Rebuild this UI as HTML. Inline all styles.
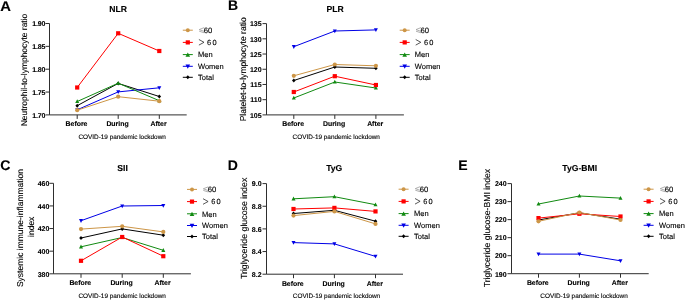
<!DOCTYPE html>
<html><head><meta charset="utf-8"><style>
html,body{margin:0;padding:0;background:#fff;overflow:hidden}
svg{display:block;will-change:transform}
text{font-family:"Liberation Sans", sans-serif;fill:#000;stroke:#000;stroke-width:0.12px;text-rendering:geometricPrecision}
</style></head><body>
<svg width="685" height="300" viewBox="0 0 685 300">
<rect width="685" height="300" fill="#fff"/>
<text transform="translate(0.3 10.6) scale(1.06 1)" font-size="14" font-weight="bold">A</text>
<text x="118.10" y="12" font-size="8.65" font-weight="bold" text-anchor="middle">NLR</text>
<path d="M49.5 23.5V114.9M49.5 114.9H186.7" stroke="#2e2e2e" stroke-width="1" fill="none"/>
<path d="M45.5 23.50H49.5" stroke="#2e2e2e" stroke-width="1"/>
<text x="45.20" y="26.30" font-size="7" font-weight="bold" text-anchor="end" letter-spacing="-0.2">1.90</text>
<path d="M45.5 46.35H49.5" stroke="#2e2e2e" stroke-width="1"/>
<text x="45.20" y="49.15" font-size="7" font-weight="bold" text-anchor="end" letter-spacing="-0.2">1.85</text>
<path d="M45.5 69.20H49.5" stroke="#2e2e2e" stroke-width="1"/>
<text x="45.20" y="72.00" font-size="7" font-weight="bold" text-anchor="end" letter-spacing="-0.2">1.80</text>
<path d="M45.5 92.05H49.5" stroke="#2e2e2e" stroke-width="1"/>
<text x="45.20" y="94.85" font-size="7" font-weight="bold" text-anchor="end" letter-spacing="-0.2">1.75</text>
<path d="M45.5 114.90H49.5" stroke="#2e2e2e" stroke-width="1"/>
<text x="45.20" y="117.70" font-size="7" font-weight="bold" text-anchor="end" letter-spacing="-0.2">1.70</text>
<path d="M77.2 114.9V118.9" stroke="#2e2e2e" stroke-width="1"/>
<text x="76.50" y="126.40" font-size="6.9" font-weight="bold" text-anchor="middle">Before</text>
<path d="M118.2 114.9V118.9" stroke="#2e2e2e" stroke-width="1"/>
<text x="117.50" y="126.40" font-size="6.9" font-weight="bold" text-anchor="middle">During</text>
<path d="M159.3 114.9V118.9" stroke="#2e2e2e" stroke-width="1"/>
<text x="158.60" y="126.40" font-size="6.9" font-weight="bold" text-anchor="middle">After</text>
<text x="122.15" y="138.90" font-size="6.4" text-anchor="middle">COVID-19 pandemic lockdown</text>
<text transform="translate(27.1,70.0) rotate(-90)" font-size="8.45" text-anchor="middle">Neutrophil-to-lymphocyte ratio</text>
<path d="M77.20 105.70L118.20 83.40L159.30 96.50" stroke="#000000" stroke-width="1" fill="none"/>
<path d="M77.20 103.70L79.00 105.70L77.20 107.70L75.40 105.70Z" fill="#000000"/>
<path d="M118.20 81.40L120.00 83.40L118.20 85.40L116.40 83.40Z" fill="#000000"/>
<path d="M159.30 94.50L161.10 96.50L159.30 98.50L157.50 96.50Z" fill="#000000"/>
<path d="M77.20 109.80L118.20 91.90L159.30 87.80" stroke="#0000E6" stroke-width="1" fill="none"/>
<path d="M77.20 112.00L79.20 108.20L75.20 108.20Z" fill="#0000E6"/>
<path d="M118.20 94.10L120.20 90.30L116.20 90.30Z" fill="#0000E6"/>
<path d="M159.30 90.00L161.30 86.20L157.30 86.20Z" fill="#0000E6"/>
<path d="M77.20 101.50L118.20 83.20L159.30 100.70" stroke="#118A11" stroke-width="1" fill="none"/>
<path d="M77.20 99.30L79.20 103.10L75.20 103.10Z" fill="#118A11"/>
<path d="M118.20 81.00L120.20 84.80L116.20 84.80Z" fill="#118A11"/>
<path d="M159.30 98.50L161.30 102.30L157.30 102.30Z" fill="#118A11"/>
<path d="M77.20 87.50L118.20 33.30L159.30 51.00" stroke="#FF0000" stroke-width="1" fill="none"/>
<rect x="75.10" y="85.40" width="4.20" height="4.20" fill="#FF0000"/>
<rect x="116.10" y="31.20" width="4.20" height="4.20" fill="#FF0000"/>
<rect x="157.20" y="48.90" width="4.20" height="4.20" fill="#FF0000"/>
<path d="M77.20 110.20L118.20 96.70L159.30 101.20" stroke="#CD9647" stroke-width="1" fill="none"/>
<circle cx="77.20" cy="110.20" r="2.10" fill="#CD9647"/>
<circle cx="118.20" cy="96.70" r="2.10" fill="#CD9647"/>
<circle cx="159.30" cy="101.20" r="2.10" fill="#CD9647"/>
<path d="M182.8 30.20H192.8" stroke="#CD9647" stroke-width="1"/>
<circle cx="187.80" cy="30.20" r="1.99" fill="#CD9647"/>
<path d="M204.20 27.60L199.20 29.60L204.20 31.40M199.20 31.20L204.20 32.80" stroke="#9a9a9a" stroke-width="0.8" fill="none"/>
<text x="203.70" y="32.90" font-size="7.7">60</text>
<path d="M182.8 42.40H192.8" stroke="#FF0000" stroke-width="1"/>
<rect x="185.70" y="40.30" width="4.20" height="4.20" fill="#FF0000"/>
<path d="M198.90 39.50L204.00 42.30L198.90 45.10" stroke="#222" stroke-width="0.75" fill="none"/>
<text x="207.10" y="45.00" font-size="7.4" letter-spacing="1.2">60</text>
<path d="M182.8 54.60H192.8" stroke="#118A11" stroke-width="1"/>
<path d="M187.80 52.47L190.10 56.84L185.50 56.84Z" fill="#118A11"/>
<text x="198.00" y="57.30" font-size="7.5">Men</text>
<path d="M182.8 66.30H192.8" stroke="#0000E6" stroke-width="1"/>
<path d="M187.80 68.83L190.10 64.46L185.50 64.46Z" fill="#0000E6"/>
<text x="198.00" y="69.00" font-size="7.5">Women</text>
<path d="M182.8 77.30H192.8" stroke="#000000" stroke-width="1"/>
<path d="M187.80 75.30L189.60 77.30L187.80 79.30L186.00 77.30Z" fill="#000000"/>
<text x="198.00" y="80.00" font-size="7.5">Total</text>
<text x="228" y="10.3" font-size="14" font-weight="bold">B</text>
<text x="335.20" y="12" font-size="8.65" font-weight="bold" text-anchor="middle">PLR</text>
<path d="M266.5 23.6V114.9M266.5 114.9H403.9" stroke="#2e2e2e" stroke-width="1" fill="none"/>
<path d="M262.5 23.60H266.5" stroke="#2e2e2e" stroke-width="1"/>
<text x="261.60" y="26.40" font-size="7" font-weight="bold" text-anchor="end">135</text>
<path d="M262.5 38.82H266.5" stroke="#2e2e2e" stroke-width="1"/>
<text x="261.60" y="41.62" font-size="7" font-weight="bold" text-anchor="end">130</text>
<path d="M262.5 54.03H266.5" stroke="#2e2e2e" stroke-width="1"/>
<text x="261.60" y="56.83" font-size="7" font-weight="bold" text-anchor="end">125</text>
<path d="M262.5 69.25H266.5" stroke="#2e2e2e" stroke-width="1"/>
<text x="261.60" y="72.05" font-size="7" font-weight="bold" text-anchor="end">120</text>
<path d="M262.5 84.47H266.5" stroke="#2e2e2e" stroke-width="1"/>
<text x="261.60" y="87.27" font-size="7" font-weight="bold" text-anchor="end">115</text>
<path d="M262.5 99.68H266.5" stroke="#2e2e2e" stroke-width="1"/>
<text x="261.60" y="102.48" font-size="7" font-weight="bold" text-anchor="end">110</text>
<path d="M262.5 114.90H266.5" stroke="#2e2e2e" stroke-width="1"/>
<text x="261.60" y="117.70" font-size="7" font-weight="bold" text-anchor="end">105</text>
<path d="M293.8 114.9V118.9" stroke="#2e2e2e" stroke-width="1"/>
<text x="293.10" y="126.40" font-size="6.9" font-weight="bold" text-anchor="middle">Before</text>
<path d="M334.8 114.9V118.9" stroke="#2e2e2e" stroke-width="1"/>
<text x="334.10" y="126.40" font-size="6.9" font-weight="bold" text-anchor="middle">During</text>
<path d="M375.9 114.9V118.9" stroke="#2e2e2e" stroke-width="1"/>
<text x="375.20" y="126.40" font-size="6.9" font-weight="bold" text-anchor="middle">After</text>
<text x="336.25" y="138.90" font-size="6.4" text-anchor="middle">COVID-19 pandemic lockdown</text>
<text transform="translate(245.5,69.3) rotate(-90)" font-size="8.6" text-anchor="middle">Platelet-to-lymphocyte ratio</text>
<path d="M293.80 80.50L334.80 67.00L375.90 68.30" stroke="#000000" stroke-width="1" fill="none"/>
<path d="M293.80 78.50L295.60 80.50L293.80 82.50L292.00 80.50Z" fill="#000000"/>
<path d="M334.80 65.00L336.60 67.00L334.80 69.00L333.00 67.00Z" fill="#000000"/>
<path d="M375.90 66.30L377.70 68.30L375.90 70.30L374.10 68.30Z" fill="#000000"/>
<path d="M293.80 46.70L334.80 31.00L375.90 29.90" stroke="#0000E6" stroke-width="1" fill="none"/>
<path d="M293.80 48.90L295.80 45.10L291.80 45.10Z" fill="#0000E6"/>
<path d="M334.80 33.20L336.80 29.40L332.80 29.40Z" fill="#0000E6"/>
<path d="M375.90 32.10L377.90 28.30L373.90 28.30Z" fill="#0000E6"/>
<path d="M293.80 98.00L334.80 82.00L375.90 88.00" stroke="#118A11" stroke-width="1" fill="none"/>
<path d="M293.80 95.80L295.80 99.60L291.80 99.60Z" fill="#118A11"/>
<path d="M334.80 79.80L336.80 83.60L332.80 83.60Z" fill="#118A11"/>
<path d="M375.90 85.80L377.90 89.60L373.90 89.60Z" fill="#118A11"/>
<path d="M293.80 92.00L334.80 76.20L375.90 85.00" stroke="#FF0000" stroke-width="1" fill="none"/>
<rect x="291.70" y="89.90" width="4.20" height="4.20" fill="#FF0000"/>
<rect x="332.70" y="74.10" width="4.20" height="4.20" fill="#FF0000"/>
<rect x="373.80" y="82.90" width="4.20" height="4.20" fill="#FF0000"/>
<path d="M293.80 75.80L334.80 64.50L375.90 65.80" stroke="#CD9647" stroke-width="1" fill="none"/>
<circle cx="293.80" cy="75.80" r="2.10" fill="#CD9647"/>
<circle cx="334.80" cy="64.50" r="2.10" fill="#CD9647"/>
<circle cx="375.90" cy="65.80" r="2.10" fill="#CD9647"/>
<path d="M399.7 30.20H409.7" stroke="#CD9647" stroke-width="1"/>
<circle cx="404.70" cy="30.20" r="1.99" fill="#CD9647"/>
<path d="M421.00 27.60L416.00 29.60L421.00 31.40M416.00 31.20L421.00 32.80" stroke="#9a9a9a" stroke-width="0.8" fill="none"/>
<text x="420.50" y="32.90" font-size="7.7">60</text>
<path d="M399.7 42.40H409.7" stroke="#FF0000" stroke-width="1"/>
<rect x="402.60" y="40.30" width="4.20" height="4.20" fill="#FF0000"/>
<path d="M415.70 39.50L420.80 42.30L415.70 45.10" stroke="#222" stroke-width="0.75" fill="none"/>
<text x="423.90" y="45.00" font-size="7.4" letter-spacing="1.2">60</text>
<path d="M399.7 54.60H409.7" stroke="#118A11" stroke-width="1"/>
<path d="M404.70 52.47L407.00 56.84L402.40 56.84Z" fill="#118A11"/>
<text x="414.80" y="57.30" font-size="7.5">Men</text>
<path d="M399.7 66.30H409.7" stroke="#0000E6" stroke-width="1"/>
<path d="M404.70 68.83L407.00 64.46L402.40 64.46Z" fill="#0000E6"/>
<text x="414.80" y="69.00" font-size="7.5">Women</text>
<path d="M399.7 77.30H409.7" stroke="#000000" stroke-width="1"/>
<path d="M404.70 75.30L406.50 77.30L404.70 79.30L402.90 77.30Z" fill="#000000"/>
<text x="414.80" y="80.00" font-size="7.5">Total</text>
<text x="0.2" y="169.6" font-size="14" font-weight="bold">C</text>
<text x="122.60" y="171" font-size="8.65" font-weight="bold" text-anchor="middle">SII</text>
<path d="M53.5 183.3V273.8M53.5 273.8H190.9" stroke="#2e2e2e" stroke-width="1" fill="none"/>
<path d="M49.5 183.30H53.5" stroke="#2e2e2e" stroke-width="1"/>
<text x="49.40" y="186.10" font-size="7" font-weight="bold" text-anchor="end">460</text>
<path d="M49.5 205.93H53.5" stroke="#2e2e2e" stroke-width="1"/>
<text x="49.40" y="208.73" font-size="7" font-weight="bold" text-anchor="end">440</text>
<path d="M49.5 228.55H53.5" stroke="#2e2e2e" stroke-width="1"/>
<text x="49.40" y="231.35" font-size="7" font-weight="bold" text-anchor="end">420</text>
<path d="M49.5 251.18H53.5" stroke="#2e2e2e" stroke-width="1"/>
<text x="49.40" y="253.98" font-size="7" font-weight="bold" text-anchor="end">400</text>
<path d="M49.5 273.80H53.5" stroke="#2e2e2e" stroke-width="1"/>
<text x="49.40" y="276.60" font-size="7" font-weight="bold" text-anchor="end">380</text>
<path d="M81.0 273.8V277.8" stroke="#2e2e2e" stroke-width="1"/>
<text x="80.30" y="285.30" font-size="6.9" font-weight="bold" text-anchor="middle">Before</text>
<path d="M122.2 273.8V277.8" stroke="#2e2e2e" stroke-width="1"/>
<text x="121.50" y="285.30" font-size="6.9" font-weight="bold" text-anchor="middle">During</text>
<path d="M163.3 273.8V277.8" stroke="#2e2e2e" stroke-width="1"/>
<text x="162.60" y="285.30" font-size="6.9" font-weight="bold" text-anchor="middle">After</text>
<text x="122.20" y="297.80" font-size="6.4" text-anchor="middle">COVID-19 pandemic lockdown</text>
<text transform="translate(23.3,228) rotate(-90)" font-size="8.5" text-anchor="middle">Systemic immune-inflammation</text>
<text transform="translate(33.5,226.8) rotate(-90)" font-size="8.5" text-anchor="middle">index</text>
<path d="M81.00 238.00L122.20 228.90L163.30 235.20" stroke="#000000" stroke-width="1" fill="none"/>
<path d="M81.00 236.00L82.80 238.00L81.00 240.00L79.20 238.00Z" fill="#000000"/>
<path d="M122.20 226.90L124.00 228.90L122.20 230.90L120.40 228.90Z" fill="#000000"/>
<path d="M163.30 233.20L165.10 235.20L163.30 237.20L161.50 235.20Z" fill="#000000"/>
<path d="M81.00 220.70L122.20 206.00L163.30 205.50" stroke="#0000E6" stroke-width="1" fill="none"/>
<path d="M81.00 222.90L83.00 219.10L79.00 219.10Z" fill="#0000E6"/>
<path d="M122.20 208.20L124.20 204.40L120.20 204.40Z" fill="#0000E6"/>
<path d="M163.30 207.70L165.30 203.90L161.30 203.90Z" fill="#0000E6"/>
<path d="M81.00 246.80L122.20 237.50L163.30 250.30" stroke="#118A11" stroke-width="1" fill="none"/>
<path d="M81.00 244.60L83.00 248.40L79.00 248.40Z" fill="#118A11"/>
<path d="M122.20 235.30L124.20 239.10L120.20 239.10Z" fill="#118A11"/>
<path d="M163.30 248.10L165.30 251.90L161.30 251.90Z" fill="#118A11"/>
<path d="M81.00 260.80L122.20 237.00L163.30 256.20" stroke="#FF0000" stroke-width="1" fill="none"/>
<rect x="78.90" y="258.70" width="4.20" height="4.20" fill="#FF0000"/>
<rect x="120.10" y="234.90" width="4.20" height="4.20" fill="#FF0000"/>
<rect x="161.20" y="254.10" width="4.20" height="4.20" fill="#FF0000"/>
<path d="M81.00 229.10L122.20 226.30L163.30 231.90" stroke="#CD9647" stroke-width="1" fill="none"/>
<circle cx="81.00" cy="229.10" r="2.10" fill="#CD9647"/>
<circle cx="122.20" cy="226.30" r="2.10" fill="#CD9647"/>
<circle cx="163.30" cy="231.90" r="2.10" fill="#CD9647"/>
<path d="M187 189.40H197" stroke="#CD9647" stroke-width="1"/>
<circle cx="192.00" cy="189.40" r="1.99" fill="#CD9647"/>
<path d="M208.30 186.80L203.30 188.80L208.30 190.60M203.30 190.40L208.30 192.00" stroke="#9a9a9a" stroke-width="0.8" fill="none"/>
<text x="207.80" y="192.10" font-size="7.7">60</text>
<path d="M187 201.60H197" stroke="#FF0000" stroke-width="1"/>
<rect x="189.90" y="199.50" width="4.20" height="4.20" fill="#FF0000"/>
<path d="M203.00 198.70L208.10 201.50L203.00 204.30" stroke="#222" stroke-width="0.75" fill="none"/>
<text x="211.20" y="204.20" font-size="7.4" letter-spacing="1.2">60</text>
<path d="M187 213.80H197" stroke="#118A11" stroke-width="1"/>
<path d="M192.00 211.67L194.30 216.04L189.70 216.04Z" fill="#118A11"/>
<text x="202.10" y="216.50" font-size="7.5">Men</text>
<path d="M187 225.50H197" stroke="#0000E6" stroke-width="1"/>
<path d="M192.00 228.03L194.30 223.66L189.70 223.66Z" fill="#0000E6"/>
<text x="202.10" y="228.20" font-size="7.5">Women</text>
<path d="M187 236.50H197" stroke="#000000" stroke-width="1"/>
<path d="M192.00 234.50L193.80 236.50L192.00 238.50L190.20 236.50Z" fill="#000000"/>
<text x="202.10" y="239.20" font-size="7.5">Total</text>
<text x="227.7" y="170" font-size="14" font-weight="bold">D</text>
<text x="334.25" y="170.8" font-size="8.65" font-weight="bold" text-anchor="middle">TyG</text>
<path d="M266.5 183.6V274.2M266.5 274.2H403" stroke="#2e2e2e" stroke-width="1" fill="none"/>
<path d="M262.5 183.60H266.5" stroke="#2e2e2e" stroke-width="1"/>
<text x="261.60" y="186.40" font-size="7" font-weight="bold" text-anchor="end">9.0</text>
<path d="M262.5 206.25H266.5" stroke="#2e2e2e" stroke-width="1"/>
<text x="261.60" y="209.05" font-size="7" font-weight="bold" text-anchor="end">8.8</text>
<path d="M262.5 228.90H266.5" stroke="#2e2e2e" stroke-width="1"/>
<text x="261.60" y="231.70" font-size="7" font-weight="bold" text-anchor="end">8.6</text>
<path d="M262.5 251.55H266.5" stroke="#2e2e2e" stroke-width="1"/>
<text x="261.60" y="254.35" font-size="7" font-weight="bold" text-anchor="end">8.4</text>
<path d="M262.5 274.20H266.5" stroke="#2e2e2e" stroke-width="1"/>
<text x="261.60" y="277.00" font-size="7" font-weight="bold" text-anchor="end">8.2</text>
<path d="M293.5 274.2V278.2" stroke="#2e2e2e" stroke-width="1"/>
<text x="292.80" y="285.70" font-size="6.9" font-weight="bold" text-anchor="middle">Before</text>
<path d="M334.4 274.2V278.2" stroke="#2e2e2e" stroke-width="1"/>
<text x="333.70" y="285.70" font-size="6.9" font-weight="bold" text-anchor="middle">During</text>
<path d="M375.5 274.2V278.2" stroke="#2e2e2e" stroke-width="1"/>
<text x="374.80" y="285.70" font-size="6.9" font-weight="bold" text-anchor="middle">After</text>
<text x="336.50" y="298.20" font-size="6.4" text-anchor="middle">COVID-19 pandemic lockdown</text>
<text transform="translate(246.5,228.4) rotate(-90)" font-size="8.8" text-anchor="middle">Triglyceride glucose index</text>
<path d="M293.50 213.50L334.40 210.30L375.50 221.20" stroke="#000000" stroke-width="1" fill="none"/>
<path d="M293.50 211.50L295.30 213.50L293.50 215.50L291.70 213.50Z" fill="#000000"/>
<path d="M334.40 208.30L336.20 210.30L334.40 212.30L332.60 210.30Z" fill="#000000"/>
<path d="M375.50 219.20L377.30 221.20L375.50 223.20L373.70 221.20Z" fill="#000000"/>
<path d="M293.50 242.60L334.40 243.90L375.50 256.40" stroke="#0000E6" stroke-width="1" fill="none"/>
<path d="M293.50 244.80L295.50 241.00L291.50 241.00Z" fill="#0000E6"/>
<path d="M334.40 246.10L336.40 242.30L332.40 242.30Z" fill="#0000E6"/>
<path d="M375.50 258.60L377.50 254.80L373.50 254.80Z" fill="#0000E6"/>
<path d="M293.50 198.80L334.40 196.70L375.50 204.70" stroke="#118A11" stroke-width="1" fill="none"/>
<path d="M293.50 196.60L295.50 200.40L291.50 200.40Z" fill="#118A11"/>
<path d="M334.40 194.50L336.40 198.30L332.40 198.30Z" fill="#118A11"/>
<path d="M375.50 202.50L377.50 206.30L373.50 206.30Z" fill="#118A11"/>
<path d="M293.50 209.00L334.40 207.90L375.50 211.40" stroke="#FF0000" stroke-width="1" fill="none"/>
<rect x="291.40" y="206.90" width="4.20" height="4.20" fill="#FF0000"/>
<rect x="332.30" y="205.80" width="4.20" height="4.20" fill="#FF0000"/>
<rect x="373.40" y="209.30" width="4.20" height="4.20" fill="#FF0000"/>
<path d="M293.50 215.60L334.40 211.40L375.50 223.90" stroke="#CD9647" stroke-width="1" fill="none"/>
<circle cx="293.50" cy="215.60" r="2.10" fill="#CD9647"/>
<circle cx="334.40" cy="211.40" r="2.10" fill="#CD9647"/>
<circle cx="375.50" cy="223.90" r="2.10" fill="#CD9647"/>
<path d="M398.6 189.20H408.6" stroke="#CD9647" stroke-width="1"/>
<circle cx="403.60" cy="189.20" r="1.99" fill="#CD9647"/>
<path d="M420.30 186.60L415.30 188.60L420.30 190.40M415.30 190.20L420.30 191.80" stroke="#9a9a9a" stroke-width="0.8" fill="none"/>
<text x="419.80" y="191.90" font-size="7.7">60</text>
<path d="M398.6 201.40H408.6" stroke="#FF0000" stroke-width="1"/>
<rect x="401.50" y="199.30" width="4.20" height="4.20" fill="#FF0000"/>
<path d="M415.00 198.50L420.10 201.30L415.00 204.10" stroke="#222" stroke-width="0.75" fill="none"/>
<text x="423.20" y="204.00" font-size="7.4" letter-spacing="1.2">60</text>
<path d="M398.6 213.60H408.6" stroke="#118A11" stroke-width="1"/>
<path d="M403.60 211.47L405.90 215.84L401.30 215.84Z" fill="#118A11"/>
<text x="414.10" y="216.30" font-size="7.5">Men</text>
<path d="M398.6 225.30H408.6" stroke="#0000E6" stroke-width="1"/>
<path d="M403.60 227.83L405.90 223.46L401.30 223.46Z" fill="#0000E6"/>
<text x="414.10" y="228.00" font-size="7.5">Women</text>
<path d="M398.6 236.30H408.6" stroke="#000000" stroke-width="1"/>
<path d="M403.60 234.30L405.40 236.30L403.60 238.30L401.80 236.30Z" fill="#000000"/>
<text x="414.10" y="239.00" font-size="7.5">Total</text>
<text x="458.2" y="170" font-size="14" font-weight="bold">E</text>
<text x="579.70" y="170.8" font-size="8.65" font-weight="bold" text-anchor="middle">TyG-BMI</text>
<path d="M511.5 183.6V273.7M511.5 273.7H648.7" stroke="#2e2e2e" stroke-width="1" fill="none"/>
<path d="M507.5 183.60H511.5" stroke="#2e2e2e" stroke-width="1"/>
<text x="506.60" y="186.40" font-size="7" font-weight="bold" text-anchor="end">240</text>
<path d="M507.5 201.62H511.5" stroke="#2e2e2e" stroke-width="1"/>
<text x="506.60" y="204.42" font-size="7" font-weight="bold" text-anchor="end">230</text>
<path d="M507.5 219.64H511.5" stroke="#2e2e2e" stroke-width="1"/>
<text x="506.60" y="222.44" font-size="7" font-weight="bold" text-anchor="end">220</text>
<path d="M507.5 237.66H511.5" stroke="#2e2e2e" stroke-width="1"/>
<text x="506.60" y="240.46" font-size="7" font-weight="bold" text-anchor="end">210</text>
<path d="M507.5 255.68H511.5" stroke="#2e2e2e" stroke-width="1"/>
<text x="506.60" y="258.48" font-size="7" font-weight="bold" text-anchor="end">200</text>
<path d="M507.5 273.70H511.5" stroke="#2e2e2e" stroke-width="1"/>
<text x="506.60" y="276.50" font-size="7" font-weight="bold" text-anchor="end">190</text>
<path d="M538.5 273.7V277.7" stroke="#2e2e2e" stroke-width="1"/>
<text x="537.80" y="285.20" font-size="6.9" font-weight="bold" text-anchor="middle">Before</text>
<path d="M579.4 273.7V277.7" stroke="#2e2e2e" stroke-width="1"/>
<text x="578.70" y="285.20" font-size="6.9" font-weight="bold" text-anchor="middle">During</text>
<path d="M620.5 273.7V277.7" stroke="#2e2e2e" stroke-width="1"/>
<text x="619.80" y="285.20" font-size="6.9" font-weight="bold" text-anchor="middle">After</text>
<text x="584.05" y="297.70" font-size="6.4" text-anchor="middle">COVID-19 pandemic lockdown</text>
<text transform="translate(489.6,228.1) rotate(-90)" font-size="8.7" text-anchor="middle">Triglyceride glucose-BMI index</text>
<path d="M538.50 220.00L579.40 212.80L620.50 219.20" stroke="#000000" stroke-width="1" fill="none"/>
<path d="M538.50 218.00L540.30 220.00L538.50 222.00L536.70 220.00Z" fill="#000000"/>
<path d="M579.40 210.80L581.20 212.80L579.40 214.80L577.60 212.80Z" fill="#000000"/>
<path d="M620.50 217.20L622.30 219.20L620.50 221.20L618.70 219.20Z" fill="#000000"/>
<path d="M538.50 254.10L579.40 254.10L620.50 260.80" stroke="#0000E6" stroke-width="1" fill="none"/>
<path d="M538.50 256.30L540.50 252.50L536.50 252.50Z" fill="#0000E6"/>
<path d="M579.40 256.30L581.40 252.50L577.40 252.50Z" fill="#0000E6"/>
<path d="M620.50 263.00L622.50 259.20L618.50 259.20Z" fill="#0000E6"/>
<path d="M538.50 204.00L579.40 196.00L620.50 198.10" stroke="#118A11" stroke-width="1" fill="none"/>
<path d="M538.50 201.80L540.50 205.60L536.50 205.60Z" fill="#118A11"/>
<path d="M579.40 193.80L581.40 197.60L577.40 197.60Z" fill="#118A11"/>
<path d="M620.50 195.90L622.50 199.70L618.50 199.70Z" fill="#118A11"/>
<path d="M538.50 218.10L579.40 213.80L620.50 216.50" stroke="#FF0000" stroke-width="1" fill="none"/>
<rect x="536.40" y="216.00" width="4.20" height="4.20" fill="#FF0000"/>
<rect x="577.30" y="211.70" width="4.20" height="4.20" fill="#FF0000"/>
<rect x="618.40" y="214.40" width="4.20" height="4.20" fill="#FF0000"/>
<path d="M538.50 221.30L579.40 212.50L620.50 220.00" stroke="#CD9647" stroke-width="1" fill="none"/>
<circle cx="538.50" cy="221.30" r="2.10" fill="#CD9647"/>
<circle cx="579.40" cy="212.50" r="2.10" fill="#CD9647"/>
<circle cx="620.50" cy="220.00" r="2.10" fill="#CD9647"/>
<path d="M643.6 189.20H653.6" stroke="#CD9647" stroke-width="1"/>
<circle cx="648.60" cy="189.20" r="1.99" fill="#CD9647"/>
<path d="M665.30 186.60L660.30 188.60L665.30 190.40M660.30 190.20L665.30 191.80" stroke="#9a9a9a" stroke-width="0.8" fill="none"/>
<text x="664.80" y="191.90" font-size="7.7">60</text>
<path d="M643.6 201.40H653.6" stroke="#FF0000" stroke-width="1"/>
<rect x="646.50" y="199.30" width="4.20" height="4.20" fill="#FF0000"/>
<path d="M660.00 198.50L665.10 201.30L660.00 204.10" stroke="#222" stroke-width="0.75" fill="none"/>
<text x="668.20" y="204.00" font-size="7.4" letter-spacing="1.2">60</text>
<path d="M643.6 213.60H653.6" stroke="#118A11" stroke-width="1"/>
<path d="M648.60 211.47L650.90 215.84L646.30 215.84Z" fill="#118A11"/>
<text x="659.10" y="216.30" font-size="7.5">Men</text>
<path d="M643.6 225.30H653.6" stroke="#0000E6" stroke-width="1"/>
<path d="M648.60 227.83L650.90 223.46L646.30 223.46Z" fill="#0000E6"/>
<text x="659.10" y="228.00" font-size="7.5">Women</text>
<path d="M643.6 236.30H653.6" stroke="#000000" stroke-width="1"/>
<path d="M648.60 234.30L650.40 236.30L648.60 238.30L646.80 236.30Z" fill="#000000"/>
<text x="659.10" y="239.00" font-size="7.5">Total</text>
</svg>
</body></html>
